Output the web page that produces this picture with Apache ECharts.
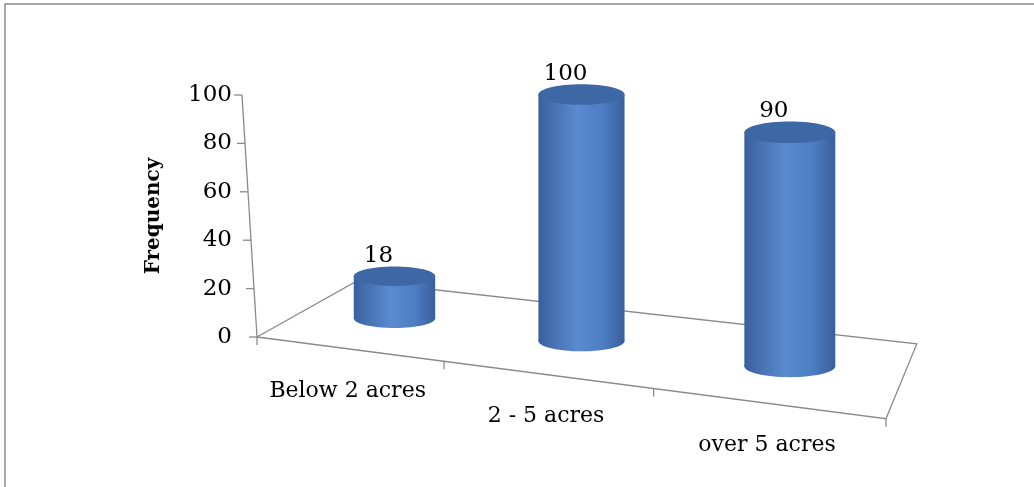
<!DOCTYPE html>
<html lang="en">

<head>
  <meta charset="UTF-8">
  <title>Frequency</title>
  <script src="https://cdn.jsdelivr.net/npm/echarts@6/dist/echarts.min.js"></script>
</head>
<style>
  * {
    margin: 0px;
    padding: 0px;
  }

  #chart {
    width: 1034px;
    height: 487px;
  }
</style>

<body>
  <div id="chart"></div>
</body>
<script>
  var categories = ['Below 2 acres', '2 - 5 acres', 'over 5 acres'];
  var frequency = [18, 100, 90];
  var yTicks = [0, 20, 40, 60, 80, 100];

  // fake 3d: skewed floor, right side drawn a bit bigger
  var persp = 0.0645;
  var frontSlope = 0.13;
  var backShift = [100, -56];
  var backScale = 0.89;
  var backSlope = 0.1124;
  var axisLean = 0.062;
  var lineColor = '#8a8a8a';
  var font = '"DejaVu Serif"';

  function floorPoint(u, d, x0, y0, band) {
    var fx = band * (u + persp * u * u);
    var fy = frontSlope * fx;
    var bx = backShift[0] + fx * backScale;
    var by = backShift[1] + backSlope * fx * backScale;
    return [x0 + fx + (bx - fx) * d, y0 + fy + (by - fy) * d];
  }

  function renderFloor(params, api) {
    var x0 = params.coordSys.x;
    var y0 = api.coord([0, 0])[1];
    var band = api.size([1, 0])[0];
    var n = categories.length;
    var line = { stroke: lineColor, lineWidth: 1.3, fill: 'none' };
    var pts = [
      floorPoint(0, 0, x0, y0, band),
      floorPoint(n, 0, x0, y0, band),
      floorPoint(n, 1, x0, y0, band),
      floorPoint(0, 1, x0, y0, band)
    ];
    pts.push(pts[0]);
    var children = [{ type: 'polyline', shape: { points: pts }, style: line }];
    for (var i = 0; i <= n; i++) {
      var p = floorPoint(i, 0, x0, y0, band);
      children.push({ type: 'line', shape: { x1: p[0], y1: p[1], x2: p[0], y2: p[1] + 8 }, style: line });
    }
    // leaning value axis
    var top = api.coord([0, yTicks[yTicks.length - 1]])[1];
    children.push({
      type: 'line',
      shape: { x1: x0, y1: y0, x2: x0 - axisLean * (y0 - top), y2: top },
      style: line
    });
    yTicks.forEach(function (v) {
      var y = api.coord([0, v])[1];
      var x = x0 - axisLean * (y0 - y);
      children.push({ type: 'line', shape: { x1: x - 8, y1: y, x2: x, y2: y }, style: line });
    });
    return { type: 'group', children: children };
  }

  function renderCylinder(params, api) {
    var i = api.value(0);
    var v = api.value(1);
    var x0 = params.coordSys.x;
    var band = api.size([1, 0])[0];
    var zero = api.coord([i, 0]);
    var u = (zero[0] - x0) / band;
    var base = floorPoint(u, 0.52, x0, zero[1], band);
    var h = (zero[1] - api.coord([i, v])[1]) * (0.935 + 0.0555 * u);
    var rx = band * 0.225 * (1 + 0.06 * u);
    var ry = rx * 0.24;
    var topY = base[1] - h;
    var front = floorPoint(u, 0, x0, zero[1], band);
    var body = new echarts.graphic.LinearGradient(0, 0, 1, 0, [
      { offset: 0, color: '#3a609e' },
      { offset: 0.45, color: '#5a8bd0' },
      { offset: 0.75, color: '#4d7dc2' },
      { offset: 1, color: '#395f9c' }
    ]);
    return {
      type: 'group',
      children: [
        { type: 'ellipse', shape: { cx: base[0], cy: base[1], rx: rx, ry: ry }, style: { fill: body } },
        { type: 'rect', shape: { x: base[0] - rx, y: topY, width: rx * 2, height: h }, style: { fill: body } },
        { type: 'ellipse', shape: { cx: base[0], cy: topY, rx: rx, ry: ry }, style: { fill: '#3e67a6' } },
        {
          type: 'text',
          style: {
            text: String(v), x: base[0] - 16, y: topY - ry + 1,
            align: 'center', verticalAlign: 'bottom',
            font: '23px ' + font, fill: '#000'
          }
        },
        {
          type: 'text',
          style: {
            text: categories[i], x: front[0], y: front[1] + 42,
            align: 'center', verticalAlign: 'middle',
            font: '22px ' + font, fill: '#000'
          }
        }
      ]
    };
  }

  var chart = echarts.init(document.getElementById('chart'));
  chart.setOption({
    animation: false,
    graphic: [{
      type: 'rect',
      z: -10,
      shape: { x: 5, y: 4, width: 1100, height: 600 },
      style: { fill: 'transparent', stroke: '#8a8a8a', lineWidth: 1.5 }
    }],
    grid: {
      left: 257,
      top: 95,
      width: 527,
      height: 242
    },
    xAxis: {
      type: 'category',
      data: categories,
      show: false
    },
    yAxis: {
      type: 'value',
      min: 0,
      max: 100,
      interval: 20,
      name: 'Frequency',
      nameLocation: 'middle',
      nameRotate: 90,
      nameGap: 93,
      nameTextStyle: {
        fontFamily: 'DejaVu Serif',
        fontWeight: 'bold',
        fontSize: 20,
        color: '#000'
      },
      axisLine: { show: false },
      axisTick: { show: false },
      splitLine: { show: false },
      axisLabel: {
        margin: 25,
        fontFamily: 'DejaVu Serif',
        fontSize: 23,
        color: '#000'
      }
    },
    series: [{
      type: 'custom',
      name: 'floor',
      z: 1,
      silent: true,
      renderItem: renderFloor,
      data: [[0, 0]]
    }, {
      type: 'custom',
      name: 'Frequency',
      z: 2,
      renderItem: renderCylinder,
      encode: { x: 0, y: 1 },
      data: frequency.map(function (v, i) { return [i, v]; })
    }]
  });
</script>

</html>
